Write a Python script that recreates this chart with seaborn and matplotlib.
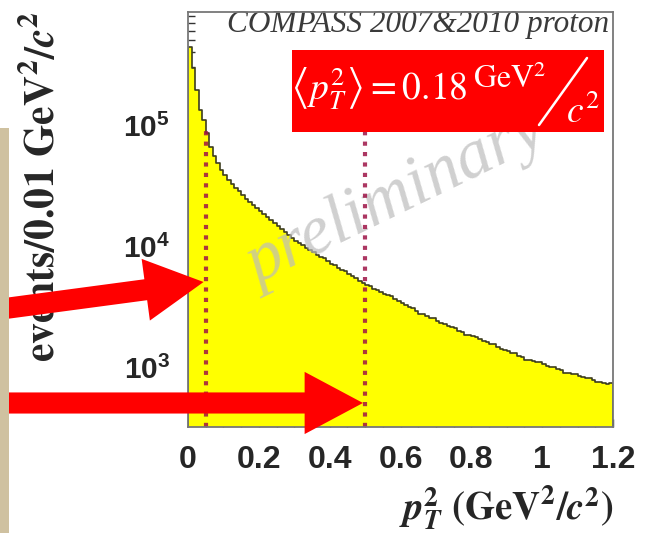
import numpy as np
import pandas as pd
import matplotlib
matplotlib.use("Agg")
import matplotlib.pyplot as plt
import seaborn as sns
from matplotlib.patches import Rectangle
from matplotlib.lines import Line2D
from matplotlib.ticker import FixedLocator, MultipleLocator, LogLocator, NullFormatter

# ---- data: events per 0.01 GeV^2/c^2 bin, p_T^2 from 0 to 1.2 ----
bin_width = 0.01
pt2_range = (0.0, 1.2)
events = [
    440000, 295000, 195000, 133000, 110000, 86000, 66000, 55000, 48500, 42700, 38600, 35100,
    32600, 30400, 28300, 26500, 24700, 23300, 22000, 20800, 19600, 18500, 17500, 16500,
    15600, 14700, 13900, 13100, 12400, 11700, 11100, 10600, 10200, 9700, 9300, 8870,
    8500, 8150, 7950, 7500, 7080, 6920, 6640, 6370, 6230, 5860, 5620, 5400,
    5180, 4970, 4800, 4630, 4400, 4330, 4180, 4040, 3900, 3850, 3640, 3500,
    3370, 3240, 3120, 3080, 2910, 2760, 2730, 2640, 2550, 2530, 2400, 2330,
    2260, 2190, 2130, 2110, 2000, 1950, 1850, 1840, 1790, 1780, 1690, 1640,
    1600, 1560, 1545, 1470, 1400, 1390, 1350, 1310, 1300, 1240, 1200, 1150,
    1150, 1120, 1100, 1095, 1050, 1020, 1000, 1000, 957, 938, 900, 900,
    881, 880, 845, 828, 811, 812, 778, 748, 748, 738, 728, 741,
]
pt2_cuts = [0.05, 0.5]
arrow_targets = [(0.044, 5040), (0.494, 504)]
mean_pt2 = 0.18
x_ticks = [0, 0.2, 0.4, 0.6, 0.8, 1.0, 1.2]
x_tick_labels = ["0", "0.2", "0.4", "0.6", "0.8", "1", "1.2"]
y_ticks = [1e3, 1e4, 1e5]
y_tick_labels = [r"$\mathbf{10^{3}}$", r"$\mathbf{10^{4}}$", r"$\mathbf{10^{5}}$"]
y_limits = (319, 8.6e5)

n_bins = len(events)
edges = np.linspace(pt2_range[0], pt2_range[1], n_bins + 1)
centers = 0.5 * (edges[:-1] + edges[1:])
hist_df = pd.DataFrame({"pt2": centers, "events": events})

# ---- style ----
sns.set_style("white")
plt.rcParams["font.family"] = ["Liberation Sans", "DejaVu Sans"]
plt.rcParams["mathtext.fontset"] = "custom"
plt.rcParams["mathtext.rm"] = "Liberation Sans"
plt.rcParams["mathtext.bf"] = "Liberation Sans:bold"
plt.rcParams["mathtext.it"] = "Liberation Sans:italic"

fig = plt.figure(figsize=(6.45, 5.33), dpi=100)
fig.patch.set_facecolor("white")
ax = fig.add_axes([188 / 645, 106 / 533, 425 / 645, 415 / 533])
ax.set_yscale("log")

sns.histplot(data=hist_df, x="pt2", weights="events", bins=n_bins, binrange=pt2_range,
             element="step", fill=True, color="#ffff00", alpha=1.0,
             edgecolor="#3d3d1f", linewidth=1.2, ax=ax, zorder=1)

ax.set_xlim(*pt2_range)
ax.set_ylim(*y_limits)

# cut lines
ax.vlines(pt2_cuts, y_limits[0], 1e5, colors=[(0.62, 0.08, 0.28)], alpha=0.85,
          linestyles=[(0, (1, 1.5))], linewidth=3.0, zorder=2.5)

# watermark
ax.text(0.49, 0.55, "preliminary", transform=ax.transAxes, fontsize=50,
        family="Liberation Serif", style="italic", color="#bcbcbc", alpha=0.7,
        rotation=26, ha="center", va="center", rotation_mode="anchor", zorder=2)

# experiment tag
ax.text(0.092, 0.969, "COMPASS 2007&2010 proton", transform=ax.transAxes,
        fontsize=22.5, family="Liberation Serif", style="italic", color="#3a3a3a",
        ha="left", va="center", zorder=3)

# mean p_T^2 box
ax.add_patch(Rectangle((0.245, 0.711), 0.734, 0.197, transform=ax.transAxes,
                       facecolor="#ff0000", edgecolor="none", zorder=4))
ax.text((468 - 188) / 425, 0.788, r"$\left\langle p_T^{2} \right\rangle = %.2f$" % mean_pt2,
        transform=ax.transAxes, fontsize=27, color="white", math_fontfamily="stix",
        ha="right", va="baseline", zorder=5)
ax.text((473 - 188) / 425, 0.817, r"$\mathrm{GeV}^{2}$", transform=ax.transAxes,
        fontsize=23, color="white", math_fontfamily="stix", ha="left", va="baseline",
        zorder=5)
ax.add_line(Line2D([(539 - 188) / 425, (587 - 188) / 425],
                   [(427 - 125) / 415, (427 - 58) / 415], transform=ax.transAxes,
                   color="white", linewidth=1.8, zorder=5))
ax.text((566 - 188) / 425, 0.733, r"$c^{2}$", transform=ax.transAxes, fontsize=27,
        color="white", math_fontfamily="stix", ha="left", va="baseline", zorder=5)

# ticks
ax.xaxis.set_major_locator(FixedLocator(x_ticks))
ax.set_xticklabels(x_tick_labels)
ax.xaxis.set_minor_locator(MultipleLocator(0.05))
ax.yaxis.set_major_locator(FixedLocator(y_ticks))
ax.set_yticklabels(y_tick_labels)
ax.yaxis.set_minor_locator(LogLocator(base=10, subs=np.arange(2, 10)))
ax.yaxis.set_minor_formatter(NullFormatter())
for lab in ax.get_xticklabels():
    lab.set_fontweight("bold")
ax.tick_params(axis="x", which="major", direction="in", length=6, width=1,
               color="#333333", labelsize=23, pad=13, top=False, bottom=True)
ax.tick_params(axis="x", which="minor", direction="in", length=3, width=1,
               color="#333333", top=False, bottom=True)
ax.tick_params(axis="y", which="major", direction="in", length=9, width=1,
               color="#333333", labelsize=21.5, pad=13, right=False, left=True)
ax.tick_params(axis="y", which="minor", direction="in", length=5, width=1,
               color="#333333", right=False, left=True)

for side in ax.spines.values():
    side.set_color("#777777")
    side.set_linewidth(1.3)
    side.set_zorder(3)

# axis titles
ax.set_xlabel(r"$\mathbfit{p}_{\mathbfit{T}}^{\mathbf{2}}\ \mathbf{(GeV^{2}/}\mathbfit{c}^{\mathbf{2}}\mathbf{)}$",
              fontsize=28, math_fontfamily="stix", loc="right")
ax.xaxis.set_label_coords(1.0, -0.135)
ax.set_ylabel(r"$\mathbf{events/0.01\ GeV^{2}/}\mathbfit{c}^{\mathbf{2}}$",
              fontsize=30, math_fontfamily="stix", loc="top")
ax.yaxis.set_label_coords(-0.295, 1.0)

# arrows pointing at the cut lines
arrow_style = "simple,head_length=1.05,head_width=1.12,tail_width=0.38"
for (tx, ty), tail_y in zip(arrow_targets, [533 - 310, 533 - 403]):
    ax.annotate("", xy=(tx, ty), xycoords="data", xytext=(-6, tail_y),
                textcoords="figure pixels",
                arrowprops=dict(arrowstyle=arrow_style, mutation_scale=40,
                                facecolor="#ff0000", edgecolor="none",
                                shrinkA=0, shrinkB=0),
                zorder=6)

# side bar
fig.add_artist(Rectangle((0, 0), 9 / 645, (533 - 128) / 533, transform=fig.transFigure,
                         facecolor="#cfc1a0", edgecolor="none"))

fig.savefig("out.png", dpi=100)
